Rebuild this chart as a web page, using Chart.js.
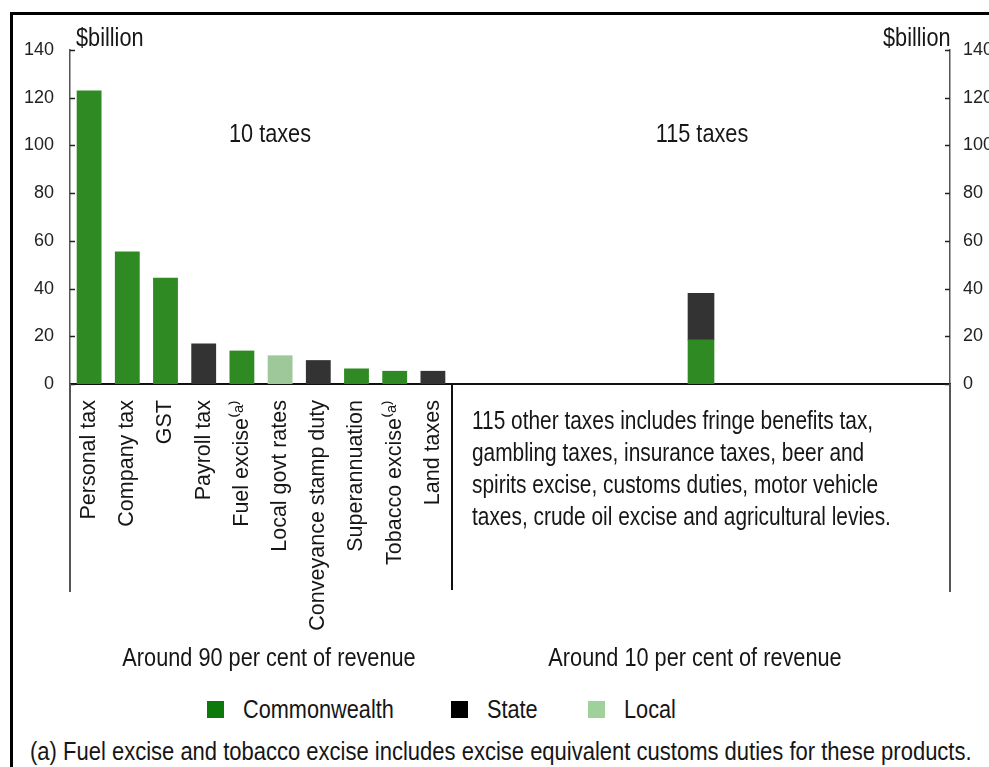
<!DOCTYPE html>
<html>
<head>
<meta charset="utf-8">
<title>Tax revenue by tax</title>
<script src="https://cdn.jsdelivr.net/npm/chart.js@4.4.0/dist/chart.umd.min.js"></script>
<style>
  body { margin: 0; width: 989px; height: 767px; overflow: hidden; background: #fff;
         font-family: "Liberation Sans", Arial, sans-serif; color: #161616; }
  /* the source uses a narrow Arial, so squeeze the text sideways */
  .t { position: absolute; white-space: nowrap; line-height: 1; transform: scaleX(0.835); transform-origin: 0 50%; }
  .c { text-align: center; transform-origin: 50% 50%; }
  #frame { position: absolute; left: 10px; top: 12px; width: 1200px; height: 1000px; border: 3px solid #000; }
  canvas { position: absolute; top: 0; }
  .vline { position: absolute; }
  .sq { position: absolute; width: 17px; height: 17px; }
</style>
</head>
<body>
<div id="frame"></div>

<canvas id="mainChart" width="460" height="650" style="left:0"></canvas>
<canvas id="otherChart" width="549" height="420" style="left:440px"></canvas>

<!-- axis lines carried down past the category labels -->
<div class="vline" style="left:69px; top:384px; width:1.5px; height:208px; background:#555"></div>
<div class="vline" style="left:451px; top:384px; width:2px; height:206px; background:#111"></div>
<div class="vline" style="left:949px; top:384px; width:1.5px; height:208px; background:#555"></div>

<div class="t" style="left:76px; top:24px; font-size:26px">$billion</div>
<div class="t" style="left:883px; top:24px; font-size:26px">$billion</div>
<div class="t c" style="left:170px; width:200px; top:120px; font-size:26px">10 taxes</div>
<div class="t c" style="left:602px; width:200px; top:120px; font-size:26px">115 taxes</div>

<div class="t" style="left:472px; top:404px; font-size:25px; line-height:32px">
  115 other taxes includes fringe benefits tax,<br>
  gambling taxes, insurance taxes, beer and<br>
  spirits excise, customs duties, motor vehicle<br>
  taxes, crude oil excise and agricultural levies.
</div>

<div class="t c" style="left:69px; width:400px; top:644px; font-size:26px">Around 90 per cent of revenue</div>
<div class="t c" style="left:495px; width:400px; top:644px; font-size:26px">Around 10 per cent of revenue</div>

<div class="sq" style="left:207px; top:701px; background:#0b7a0b"></div>
<div class="t" style="left:243px; top:696px; font-size:26px">Commonwealth</div>
<div class="sq" style="left:451px; top:701px; background:#000"></div>
<div class="t" style="left:487px; top:696px; font-size:26px">State</div>
<div class="sq" style="left:588px; top:701px; background:#9fd29b"></div>
<div class="t" style="left:624px; top:696px; font-size:26px">Local</div>

<div class="t" style="left:30px; top:739px; font-size:25px; transform: scaleX(0.88)">(a) Fuel excise and tobacco excise includes excise equivalent customs duties for these products.</div>

<script>
// the ten largest taxes, $billion
const taxNames = ['Personal tax', 'Company tax', 'GST', 'Payroll tax', 'Fuel excise\u207D\u1D43\u207E',
    'Local govt rates', 'Conveyance stamp duty', 'Superannuation', 'Tobacco excise\u207D\u1D43\u207E', 'Land taxes'];
const commonwealthTaxes = [123, 55.5, 44.5, null, 14, null, null, 6.5, 5.5, null];
const stateTaxes = [null, null, null, 17, null, null, 10, null, null, 5.5];
const localTaxes = [null, null, null, null, null, 12, null, null, null, null];

// the other 115 taxes, one stacked bar
const otherLabels = ['115 other taxes'];
const otherCommonwealth = [18.5];
const otherState = [19.5];

const yTicks = [0, 20, 40, 60, 80, 100, 120, 140];

const FONT = '"Liberation Sans", Arial, sans-serif';
const GREEN = '#2f8a24';
const DARK = '#333333';
const LIGHT = '#9ec79a';

// short tick marks pointing into the plot
const insideTicks = {
    id: 'insideTicks',
    afterDatasetsDraw(chart) {
        const y = chart.scales.y;
        const ctx = chart.ctx;
        const onRight = y.position === 'right';
        const x0 = onRight ? y.left : y.right;
        const dir = onRight ? -1 : 1;
        ctx.save();
        ctx.strokeStyle = '#222';
        ctx.lineWidth = 1.5;
        yTicks.forEach(v => {
            const py = Math.round(y.getPixelForValue(v)) + 0.5;
            ctx.beginPath();
            ctx.moveTo(x0, py);
            ctx.lineTo(x0 + dir * 5, py);
            ctx.stroke();
        });
        ctx.restore();
    }
};

const yScale = (position, width, pad) => ({
    position: position,
    stacked: true,
    min: 0,
    max: 140,
    afterFit: s => { s.width = width; },
    afterBuildTicks: s => { s.ticks = yTicks.map(v => ({ value: v })); },
    grid: { display: false, drawTicks: false },
    border: { display: true, color: '#555', width: 1.5 },
    ticks: { padding: pad, color: '#222', font: { family: FONT, size: 18 } }
});

new Chart(document.getElementById('mainChart'), {
    type: 'bar',
    data: {
        labels: taxNames,
        datasets: [
            { label: 'Commonwealth', data: commonwealthTaxes, backgroundColor: GREEN },
            { label: 'State', data: stateTaxes, backgroundColor: DARK },
            { label: 'Local', data: localTaxes, backgroundColor: LIGHT }
        ]
    },
    options: {
        responsive: false,
        animation: false,
        layout: { padding: { left: 0, right: 8, top: 50, bottom: 0 } },
        datasets: { bar: { categoryPercentage: 1, barPercentage: 0.65 } },
        plugins: { legend: { display: false }, tooltip: { enabled: false } },
        scales: {
            x: {
                stacked: true,
                afterFit: s => { s.height = 266; s.paddingLeft = 0; s.paddingRight = 0; },
                grid: { display: false, drawTicks: false },
                border: { display: true, color: '#111', width: 2 },
                ticks: { autoSkip: false, minRotation: 90, maxRotation: 90, padding: 16,
                         color: '#161616', font: { family: FONT, size: 21.5 } }
            },
            y: yScale('left', 70, 16)
        }
    },
    plugins: [insideTicks]
});

new Chart(document.getElementById('otherChart'), {
    type: 'bar',
    data: {
        labels: otherLabels,
        datasets: [
            { label: 'Commonwealth', data: otherCommonwealth, backgroundColor: GREEN },
            { label: 'State', data: otherState, backgroundColor: DARK }
        ]
    },
    options: {
        responsive: false,
        animation: false,
        layout: { padding: { left: 12, right: 0, top: 50, bottom: 0 } },
        datasets: { bar: { barThickness: 26 } },
        plugins: { legend: { display: false }, tooltip: { enabled: false } },
        scales: {
            x: {
                stacked: true,
                afterFit: s => { s.height = 36; },
                grid: { display: false, drawTicks: false },
                border: { display: true, color: '#111', width: 2 },
                ticks: { display: false }
            },
            y: yScale('right', 39, 13)
        }
    },
    plugins: [insideTicks]
});
</script>
</body>
</html>
